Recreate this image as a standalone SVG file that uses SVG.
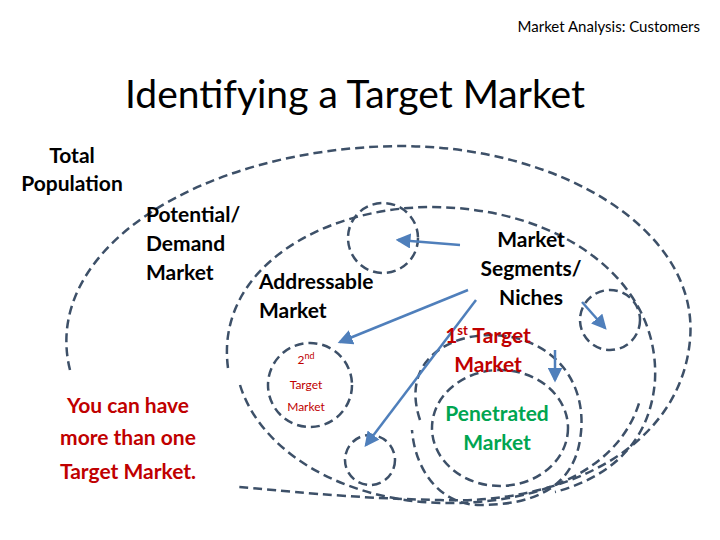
<svg xmlns="http://www.w3.org/2000/svg" width="720" height="540" viewBox="0 0 720 540">
<style>
.d{fill:none;stroke:#3d5068;stroke-width:2.5;stroke-dasharray:9 5}
.a{fill:none;stroke:#4f7fbb;stroke-width:2.5;marker-end:url(#ah)}
.k{font-family:Lato,"Liberation Sans",sans-serif;font-weight:bold;font-size:21px;fill:#000}
.s{font-family:Lato,"Liberation Sans",sans-serif;font-size:12px;fill:#c00000;text-anchor:middle}
.r{fill:#c00000}
.g{fill:#00a550}
.c{text-anchor:middle}
</style>
<defs><marker id="ah" markerWidth="6" markerHeight="6" refX="5" refY="3" orient="auto"><path d="M0,0L6,3L0,6z" fill="#4f7fbb"/></marker></defs>
<rect width="720" height="540" fill="#fff"/>
<text x="700" y="32" text-anchor="end" font-family="Lato,'Liberation Sans',sans-serif" font-size="15">Market Analysis: Customers</text>
<text x="355" y="108" text-anchor="middle" font-family="Lato,'Liberation Sans',sans-serif" font-size="39">Identifying a Target Market</text>
<g id="shapes">
<path id="total" class="d" d="M70 370 C40 250,200 148,400 146 C560 146,700 230,690 340 C680 450,560 505,440 500 C340 498,280 490,238 487"/>
<path id="potential" class="d" d="M228 368 C215 270,320 208,430 207 C560 207,660 280,655 380 C650 450,600 480,555 492"/>
<path id="addressable" class="d" d="M240 385 C260 450,340 500,440 503 C540 505,620 470,640 400"/>
<path id="first" class="d" d="M420 420 C400 360,450 335,490 335 C550 335,590 380,580 440 C572 490,530 505,480 505 C440 505,415 470,412 430"/>
<ellipse id="pen" class="d" cx="500" cy="428" rx="68" ry="58"/>
<circle id="seg1" class="d" cx="383" cy="238" r="35"/>
<circle id="seg2" class="d" cx="610" cy="320" r="30"/>
<circle id="second" class="d" cx="310" cy="385" r="42"/>
<circle id="seg3" class="d" cx="370" cy="460" r="25"/>
</g>
<g id="connectors">
<path class="a" d="M460 245 L398 240"/>
<path class="a" d="M468 290 L340 342"/>
<path class="a" d="M476 300 L366 445"/>
<path class="a" d="M582 302 L605 328"/>
<path class="a" d="M555 350 L555 380"/>
</g>
<g id="labels">
<text class="k c" x="72" y="163">Total</text>
<text class="k c" x="72" y="191">Population</text>
<text class="k" x="146" y="222">Potential/</text>
<text class="k" x="146" y="251">Demand</text>
<text class="k" x="146" y="280">Market</text>
<text class="k" x="259" y="289">Addressable</text>
<text class="k" x="259" y="318">Market</text>
<text class="k c" x="531" y="247">Market</text>
<text class="k c" x="531" y="276">Segments/</text>
<text class="k c" x="531" y="305">Niches</text>
<text class="k c r" x="488" y="343">1<tspan font-size="13" dy="-8">st</tspan><tspan dy="8"> Target</tspan></text>
<text class="k c r" x="488" y="372">Market</text>
<text class="s" x="306" y="364">2<tspan font-size="9" dy="-5">nd</tspan></text>
<text class="s" x="306" y="389">Target</text>
<text class="s" x="306" y="411">Market</text>
<text class="k c g" x="497" y="421">Penetrated</text>
<text class="k c g" x="497" y="450">Market</text>
<text class="k c r" x="128" y="413" font-size="24">You can have</text>
<text class="k c r" x="128" y="445" font-size="24">more than one</text>
<text class="k c r" x="128" y="479" font-size="24">Target Market.</text>
</g>
</svg>
